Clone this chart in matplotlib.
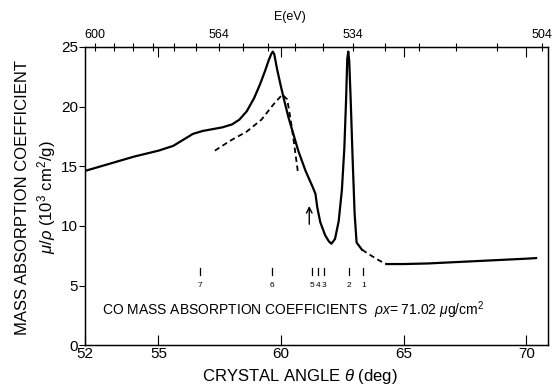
import numpy as np
import matplotlib
matplotlib.use("Agg")
import matplotlib.pyplot as plt

plt.rcParams['font.family'] = ['Liberation Sans', 'DejaVu Sans']
plt.rcParams['mathtext.fontset'] = 'custom'
plt.rcParams['mathtext.it'] = 'Liberation Sans:italic'
plt.rcParams['mathtext.rm'] = 'Liberation Sans'

# measured absorption curve (solid), crystal angle in deg, mu/rho in 10^3 cm^2/g
theta_main = [52.0, 53.0, 54.0, 55.0, 55.6, 56.0, 56.4, 56.8, 57.2, 57.6, 58.0,
              58.3, 58.6, 58.9, 59.15, 59.35, 59.5, 59.6, 59.66, 59.72, 59.84,
              59.98, 60.13, 60.3, 60.5, 60.7, 61.0, 61.3, 61.4, 61.48, 61.6,
              61.8, 61.95, 62.05, 62.2, 62.35, 62.48, 62.58, 62.65, 62.7, 62.74,
              62.78, 62.84, 62.92, 63.0, 63.08, 63.3]
mu_main = [14.6, 15.2, 15.8, 16.3, 16.7, 17.2, 17.7, 17.95, 18.1, 18.25, 18.5,
           18.9, 19.6, 20.7, 21.9, 23.0, 23.9, 24.4, 24.6, 24.4, 23.1,
           21.8, 20.5, 19.1, 17.7, 16.3, 14.6, 13.2, 12.7, 11.5, 10.3,
           9.2, 8.7, 8.5, 8.9, 10.4, 13.0, 16.5, 20.5, 24.0, 24.6,
           23.8, 20.5, 15.5, 11.0, 8.6, 8.0]

# dashed bridge after the second peak
theta_gap = [63.3, 63.6, 64.0, 64.3]
mu_gap = [8.0, 7.6, 7.1, 6.8]

# solid tail
theta_tail = [64.3, 65.0, 66.0, 67.0, 68.0, 69.0, 70.0, 70.4]
mu_tail = [6.8, 6.8, 6.85, 6.95, 7.05, 7.15, 7.25, 7.3]

# dashed comparison curve
theta_dash = [57.3, 57.9, 58.6, 59.2, 59.7, 60.05, 60.25, 60.4, 60.55, 60.7]
mu_dash = [16.3, 17.1, 17.9, 18.9, 20.2, 21.0, 20.6, 18.8, 16.6, 14.3]

# numbered markers
marker_theta = [63.36, 62.75, 61.76, 61.5, 61.28, 59.62, 56.7]
marker_labels = ['1', '2', '3', '4', '5', '6', '7']

# energy scale (top axis)
K = 475.5  # E * sin(theta), eV
e_ticks = list(range(504, 601, 6))
e_labels = [600, 564, 534, 504]

fig = plt.figure(figsize=(5.55, 3.87), dpi=100)
ax = fig.add_axes([0.153, 0.108, 0.835, 0.771])

ax.plot(theta_main, mu_main, color='black', lw=1.6, solid_joinstyle='round')
ax.plot(theta_gap, mu_gap, color='black', lw=1.3, ls=(0, (3, 2)))
ax.plot(theta_tail, mu_tail, color='black', lw=1.6)
ax.plot(theta_dash, mu_dash, color='black', lw=1.3, ls=(0, (3, 2)))

for t, lab in zip(marker_theta, marker_labels):
    ax.plot([t, t], [5.9, 6.5], color='black', lw=0.9)
    ax.text(t, 5.0, lab, ha='center', va='center', fontsize=6)

ax.annotate('', xy=(61.15, 11.9), xytext=(61.15, 9.9),
            arrowprops=dict(arrowstyle='->', color='black', lw=1.0))

ax.text(52.7, 2.9, r'CO MASS ABSORPTION COEFFICIENTS  $\rho x$= 71.02 $\mu$g/cm$^2$',
        fontsize=10, va='center', ha='left')

ax.set_xlim(52, 70.9)
ax.set_ylim(0, 25)
ax.set_xticks([52, 55, 60, 65, 70])
ax.set_yticks([0, 5, 10, 15, 20, 25])
ax.tick_params(axis='x', direction='in', length=7, width=0.8, labelsize=11, pad=1)
ax.tick_params(axis='y', direction='out', length=4, width=0.8, labelsize=11, pad=1)
for s in ax.spines.values():
    s.set_linewidth(1.0)

top = ax.twiny()
top.set_xlim(ax.get_xlim())
e_pos = [np.degrees(np.arcsin(K / e)) for e in e_ticks]
top.set_xticks(e_pos)
top.set_xticklabels([str(e) if e in e_labels else '' for e in e_ticks])
top.set_xticks([55, 60, 65, 70], minor=True)
top.tick_params(axis='x', which='major', direction='inout', length=6, width=0.8,
                labelsize=9, pad=1)
top.tick_params(axis='x', which='minor', direction='in', length=7, width=0.8)

fig.text(0.522, 0.956, 'E(eV)', ha='center', va='center', fontsize=9)
fig.text(0.54, 0.028, r'CRYSTAL ANGLE $\theta$ (deg)', ha='center', va='center',
         fontsize=12)
fig.text(0.04, 0.49, 'MASS ABSORPTION COEFFICIENT', rotation=90, ha='center',
         va='center', fontsize=12)
fig.text(0.083, 0.49, r'$\mu/\rho$ (10$^3$ cm$^2$/g)', rotation=90, ha='center',
         va='center', fontsize=12)

fig.savefig('out.png', dpi=100)
